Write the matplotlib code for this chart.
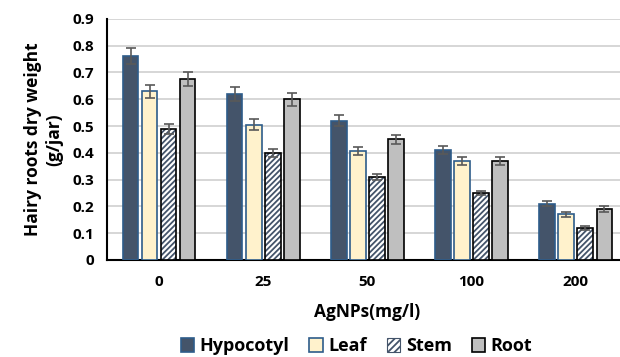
import numpy as np
import matplotlib.pyplot as plt

doses = ['0', '25', '50', '100', '200']
series = ['Hypocotyl', 'Leaf', 'Stem', 'Root']
hypocotyl = [0.76, 0.62, 0.52, 0.41, 0.21]
leaf = [0.63, 0.505, 0.405, 0.37, 0.17]
stem = [0.49, 0.40, 0.31, 0.25, 0.12]
root = [0.675, 0.60, 0.45, 0.37, 0.19]
hypocotyl_err = [0.03, 0.025, 0.02, 0.015, 0.01]
leaf_err = [0.025, 0.02, 0.015, 0.015, 0.01]
stem_err = [0.018, 0.015, 0.01, 0.008, 0.008]
root_err = [0.025, 0.025, 0.018, 0.015, 0.012]

plt.rcParams['font.family'] = ['Open Sans', 'DejaVu Sans']
plt.rcParams['font.weight'] = 'bold'
plt.rcParams['hatch.linewidth'] = 1.3

fig = plt.figure(figsize=(6.2, 3.57), dpi=100)
ax = fig.add_axes([0.1726, 0.272, 0.84, 0.675])

x = np.arange(len(doses))
pitch = 0.183
width = 0.15
styles = [
    dict(color='#44546A', edgecolor='#2E5C8A'),
    dict(color='#FFF2CC', edgecolor='#2E5C8A'),
    dict(color='white', edgecolor='#44546A', hatch='//////'),
    dict(color='#BFBFBF', edgecolor='black'),
]
values = [hypocotyl, leaf, stem, root]
errors = [hypocotyl_err, leaf_err, stem_err, root_err]
for i, (name, vals, errs, st) in enumerate(zip(series, values, errors, styles)):
    pos = x + (i - 1.5) * pitch
    if 'hatch' in st:
        # hatch in navy, outline in black
        ax.bar(pos, vals, width, linewidth=0, zorder=3, **st)
        ax.bar(pos, vals, width, fill=False, edgecolor='black', linewidth=1.2, zorder=3)
        ax.bar([np.nan], [0], width, label=name, linewidth=0.8, color='white',
               edgecolor='#44546A', hatch='/////')
    else:
        ax.bar(pos, vals, width, label=name, linewidth=1.2, zorder=3, **st)
    ax.errorbar(pos, vals, yerr=errs, fmt='none', ecolor='#595959',
                elinewidth=1.2, capsize=3.5, capthick=1.2, zorder=4)

ax.set_xlim(-0.5, 4.5)
ax.set_ylim(0, 0.9)
ax.set_yticks(np.arange(0, 0.91, 0.1))
ax.set_yticklabels(['0'] + ['%.1f' % v for v in np.arange(0.1, 0.91, 0.1)])
ax.set_xticks(x)
ax.set_xticklabels(doses)
ax.tick_params(axis='both', length=0, labelsize=11)
ax.tick_params(axis='x', pad=11)
ax.tick_params(axis='y', pad=9)
ax.yaxis.grid(True, color='#D0D0D0', linewidth=1.2, zorder=0)
ax.set_axisbelow(True)
for s in ['top', 'right']:
    ax.spines[s].set_visible(False)
ax.spines['left'].set_linewidth(1.5)
ax.spines['bottom'].set_linewidth(1.5)

ax.set_xlabel('AgNPs(mg/l)', fontsize=12.5, fontweight='bold', labelpad=10)
ax.set_ylabel('Hairy roots dry weight\n(g/jar)', fontsize=12.5, fontweight='bold', labelpad=7)

fig.legend(loc='center', bbox_to_anchor=(0.575, 0.03), ncol=4, frameon=False,
           fontsize=13, handlelength=0.75, handleheight=0.75, handletextpad=0.3,
           columnspacing=1.1)

plt.savefig('out.png', dpi=100)
